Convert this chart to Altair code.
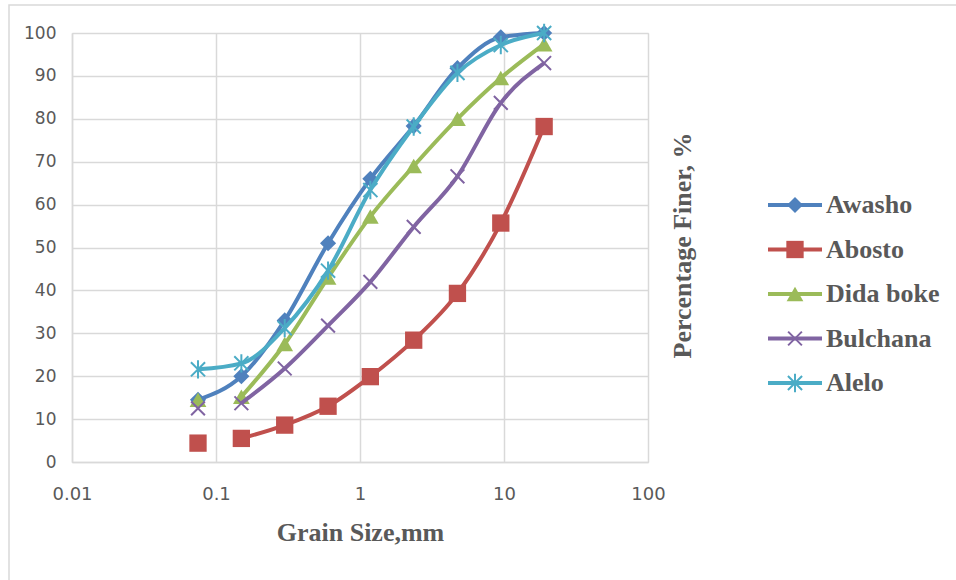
import altair as alt
import pandas as pd

sizes = [0.075, 0.15, 0.3, 0.6, 1.18, 2.36, 4.75, 9.5, 19]
series = ["Awasho", "Abosto", "Dida boke", "Bulchana", "Alelo"]
awasho = [14.5, 20.0, 33.0, 51.0, 66.0, 78.3, 91.8, 99.0, 100.0]
abosto = [4.4, 5.5, 8.6, 13.0, 19.9, 28.4, 39.3, 55.7, 78.2]
dida_boke = [14.5, 15.2, 27.5, 43.0, 57.2, 69.0, 80.0, 89.5, 97.4]
bulchana = [12.5, 13.7, 21.8, 31.8, 42.0, 54.8, 66.6, 83.7, 93.0]
alelo = [21.6, 23.0, 31.2, 44.6, 63.4, 78.2, 90.7, 97.2, 100.0]
line_start = [0, 1, 1, 1, 0]  # index of first sieve joined by the curve

values = [awasho, abosto, dida_boke, bulchana, alelo]
colors = ["#4F81BD", "#C0504D", "#9BBB59", "#8064A2", "#4BACC6"]
shapes = ["diamond", "square", "triangle-up",
          "M-1,-1L1,1M-1,1L1,-1",
          "M-1,-1L1,1M-1,1L1,-1M0,-1.3L0,1.3"]
filled = [True, True, True, False, False]
msize = [260, 300, 280, 190, 200]

rows = []
for s, vals, st in zip(series, values, line_start):
    for i, (x, y) in enumerate(zip(sizes, vals)):
        rows.append({"series": s, "size": x, "finer": y, "joined": i >= st, "order": i})
df = pd.DataFrame(rows)

W, H = 576, 429
GREY = "#595959"
GRID = "#D9D9D9"

xscale = alt.Scale(type="log", domain=[0.01, 100], nice=False)
yscale = alt.Scale(domain=[0, 100], nice=False)
XD = alt.X("size:Q", scale=xscale)
YD = alt.Y("finer:Q", scale=yscale, axis=None)

base = alt.Chart(df)

frame = alt.Chart(pd.DataFrame({"a": [0]})).mark_rect(
    fill=None, stroke=GRID, strokeWidth=1.5, clip=False
).encode(x=alt.value(-63), x2=alt.value(900), y=alt.value(-28), y2=alt.value(600))

axes = base.mark_point(opacity=0).encode(
    x=alt.X("size:Q", scale=xscale,
            axis=alt.Axis(values=[0.01, 0.1, 1, 10, 100], labelExpr="datum.value + ''",
                          title="Grain Size,mm", titleFont="Liberation Serif", titleFontSize=26,
                          titleFontWeight="bold", titleColor=GREY, titlePadding=16,
                          labelFont="DejaVu Sans", labelFontSize=18, labelColor=GREY,
                          labelPadding=23, ticks=False, grid=True, gridColor=GRID,
                          gridWidth=1.5, domainColor=GRID, domainWidth=1.5,
                          labelFlush=False)),
    y=alt.Y("finer:Q", scale=yscale,
            axis=alt.Axis(values=list(range(0, 101, 10)), title=None,
                          labelFont="DejaVu Sans", labelFontSize=17, labelColor=GREY,
                          labelPadding=16, ticks=False, grid=True, gridColor=GRID,
                          gridWidth=1.5, domainColor=GRID, domainWidth=1.5)),
)

layers = [frame, axes]
for s, c, sh, f, ms in zip(series, colors, shapes, filled, msize):
    sub = base.transform_filter(alt.datum.series == s)
    line = sub.transform_filter(alt.datum.joined).mark_line(
        color=c, strokeWidth=4, interpolate="monotone"
    ).encode(x=XD, y=YD, order="order:Q")
    pts = sub.mark_point(
        shape=sh, filled=f, color=c, size=ms, opacity=1,
        strokeWidth=2 if not f else 0
    ).encode(x=XD, y=YD)
    layers += [line, pts]

ytitle = alt.Chart(pd.DataFrame({"t": ["Percentage  Finer, %"]})).mark_text(
    angle=270, font="Liberation Serif", fontSize=26, fontWeight="bold", color=GREY,
    align="center", baseline="middle"
).encode(text="t:N", x=alt.value(611), y=alt.value(H / 2 - 2))
layers.append(ytitle)

# custom legend
leg = pd.DataFrame({"series": series, "color": colors})
ly = alt.Y("series:N", scale=alt.Scale(type="point", domain=series, range=[172, 350], padding=0),
           axis=None)
for s, c, sh, f, ms in zip(series, colors, shapes, filled, msize):
    lsub = alt.Chart(leg).transform_filter(alt.datum.series == s)
    layers.append(lsub.mark_rule(color=c, strokeWidth=4).encode(
        x=alt.value(696), x2=alt.value(750), y=ly))
    layers.append(lsub.mark_point(shape=sh, filled=f, color=c, size=ms, opacity=1,
                                  strokeWidth=2 if not f else 0).encode(
        x=alt.value(723), y=ly))
layers.append(alt.Chart(leg).mark_text(
    font="Liberation Serif", fontSize=26, fontWeight="bold", color=GREY,
    align="left", baseline="middle"
).encode(x=alt.value(754), y=ly, text="series:N"))

chart = alt.layer(*layers).resolve_scale(y="independent").properties(
    width=W, height=H,
    autosize=alt.AutoSizeParams(type="none"),
    padding={"left": 72, "top": 33, "right": 308, "bottom": 118},
).configure_view(stroke=None).configure(background="white")

chart.save("out.html", embed_options={"renderer": "svg", "actions": False})
